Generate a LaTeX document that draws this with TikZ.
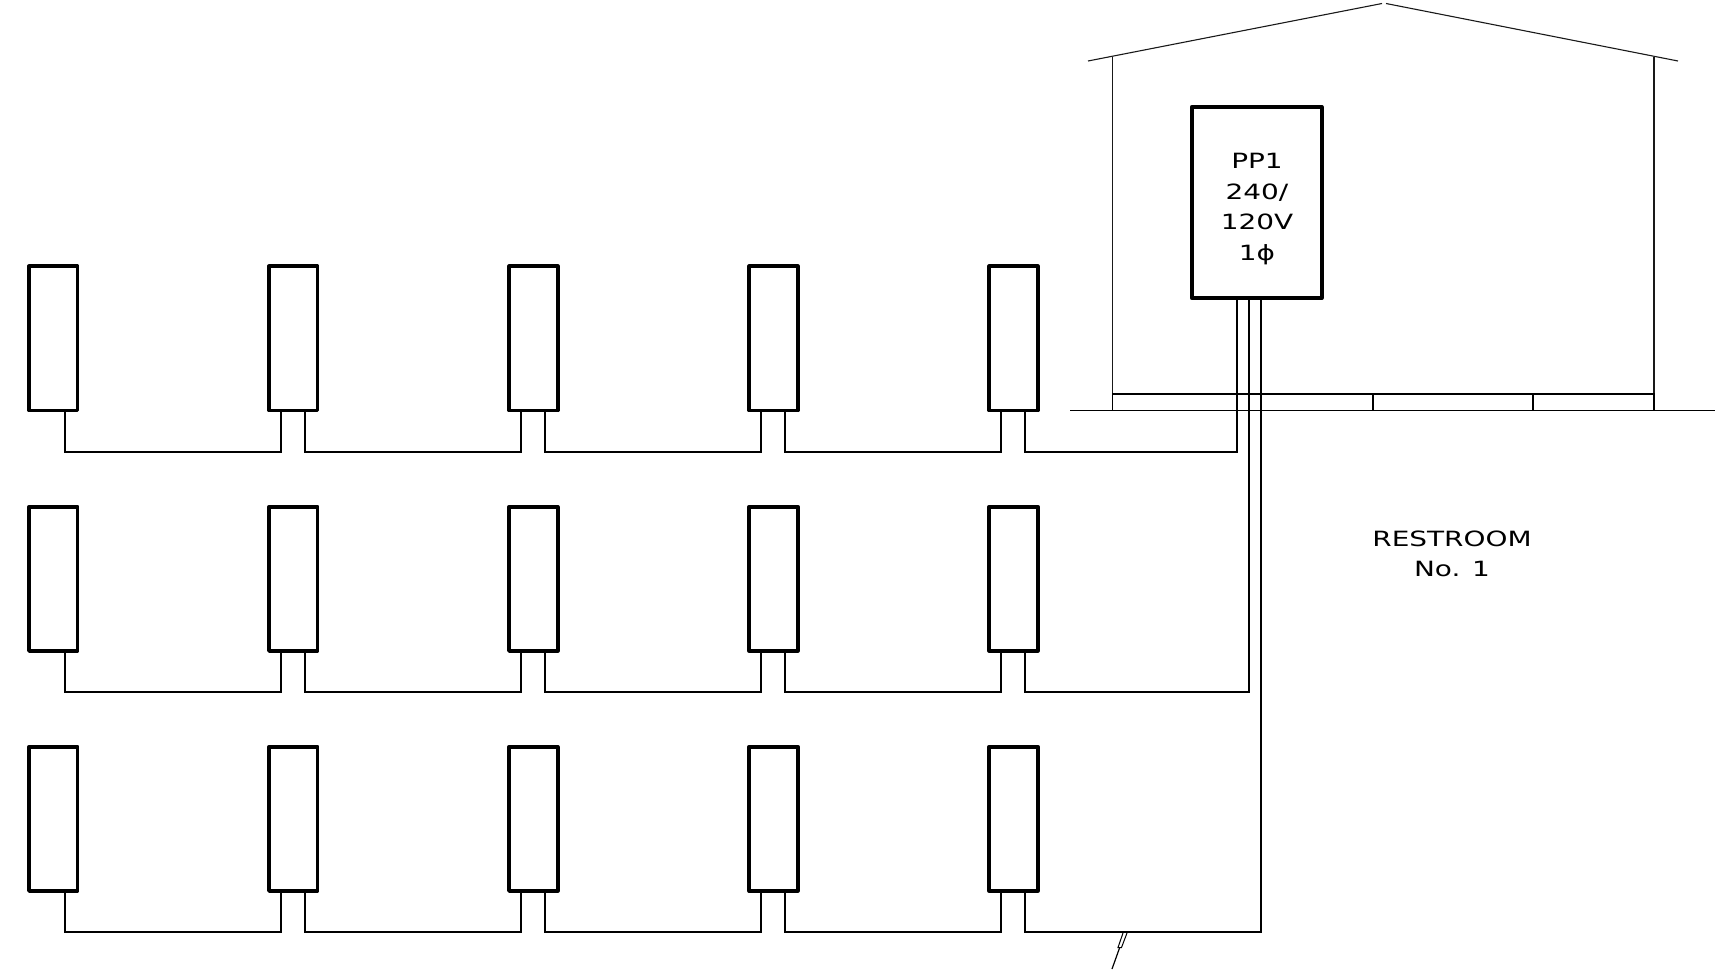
\documentclass[tikz,border=0pt]{standalone}
\usepackage{fontspec}
\setmainfont[FakeStretch=1.33]{DejaVu Sans}
\usetikzlibrary{calc}
\tikzset{
  fixture/.style={draw=black,line width=3.8pt,fill=white,inner sep=0pt,outer sep=0pt,minimum width=48.5pt,minimum height=144.2pt,line join=round},
  panelbox/.style={draw=black,line width=4pt,fill=white,inner sep=0pt,outer sep=0pt,minimum width=129.5pt,minimum height=191.5pt,line join=round},
  wire/.style={draw=black,line width=2pt},
  thin wall/.style={draw=black!90,line width=1.1pt},
  floorline/.style={draw=black,line width=1.4pt},
  floorseg/.style={draw=black,line width=1.9pt},
  label/.style={inner sep=0pt,outer sep=0pt,font=\fontsize{21pt}{30.5pt}\selectfont,align=center,anchor=base}
}
\begin{document}
\begin{tikzpicture}[x=1pt,y=-1pt]
\useasboundingbox (0,0) rectangle (1729,969);
% house
\coordinate (eaveL) at (1088,61);
\coordinate (apexL) at (1382,3.5);
\coordinate (apexR) at (1386,3.5);
\coordinate (eaveR) at (1678,61);
\coordinate (wallLt) at (1112.5,57);
\coordinate (wallLb) at (1112.5,394);
\coordinate (wallRt) at (1654,57);
\coordinate (wallRb) at (1654,394);
\coordinate (groundL) at (1070,410.5);
\coordinate (groundR) at (1715,410.5);
\draw[thin wall] (eaveL) -- (apexL);
\draw[thin wall] (apexR) -- (eaveR);
\draw[thin wall] (wallLt) -- (wallLb);
\draw[thin wall] (wallRt) -- (wallRb);
\draw[floorline] (1112.5,394) rectangle (1654,410.5);
\draw[floorseg] (1373,394) rectangle (1533,410.5);
\draw[floorline] (groundL) -- (groundR);
% fixtures
\foreach \r/\ry in {1/338.4,2/578.8,3/818.8}{
  \foreach \c/\cx in {1/53.25,2/293.25,3/533.35,4/773.45,5/1013.5}{
    \node[fixture] (fix\r\c) at (\cx,\ry) {};
    \coordinate (tapL\r\c) at ($(fix\r\c.south west)+(12,0)$);
    \coordinate (tapR\r\c) at ($(fix\r\c.south west)+(36,0)$);
  }
  \foreach \a/\b in {1/2,2/3,3/4,4/5}{
    \draw[wire] (tapR\r\a) -- ++(0,41) -| (tapL\r\b);
  }
}
% panel
\node[panelbox] (panel) at (1256.75,202.5) {};
\coordinate (feedA) at (1236.5,298.25);
\coordinate (feedB) at (1248.8,298.25);
\coordinate (feedC) at (1261,298.25);
\draw[wire] (tapR15) -- ++(0,41) -| (feedA);
\draw[wire] (tapR25) -- ++(0,41) -| (feedB);
\draw[wire] (tapR35) -- ++(0,41) -| (feedC);
% labels
\node[label] (paneltext) at (1257,260) {PP1\\240/\\120V\\1ϕ};
\node[label] (roomtext) at (1452,576.7) {RESTROOM\\No. 1};
% tick
\coordinate (tickA) at (1123,933);
\coordinate (tickB) at (1127,933);
\coordinate (tickC) at (1121.5,947.5);
\coordinate (tickD) at (1118,947.5);
\coordinate (tickE) at (1119.7,947.5);
\coordinate (tickF) at (1112,969);
\draw[draw=black,line width=1pt] (tickA) -- (tickD) -- (tickC) -- (tickB);
\draw[draw=black,line width=1.2pt] (tickE) -- (tickF);
\end{tikzpicture}
\end{document}
